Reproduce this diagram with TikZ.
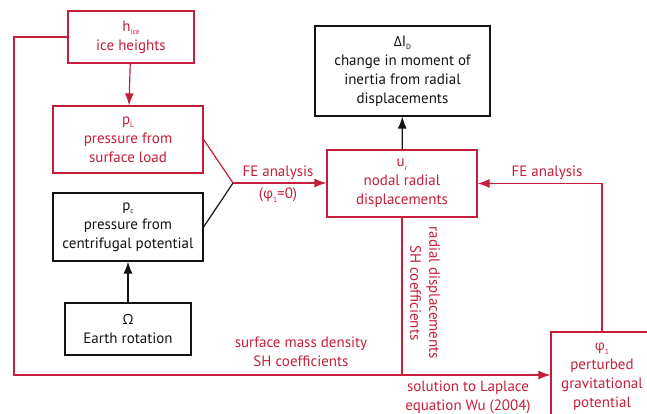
\documentclass[tikz,border=0pt]{standalone}
\usepackage{fontspec}
\setmainfont{PT Sans}
\newfontfamily\greekfont{Open Sans}
\usetikzlibrary{arrows.meta}
\definecolor{flowred}{RGB}{198,30,58}
\definecolor{flowblack}{RGB}{20,20,20}
\newcommand\lowsub[1]{\raisebox{-0.45ex}{\fontsize{7.5}{7.5}\selectfont #1}}
\newcommand\gk[1]{{\greekfont\fontsize{14}{19}\selectfont #1}}
\tikzset{
  box/.style={draw, line width=1.2pt, align=center, inner sep=2pt,
              font=\fontsize{15}{19}\selectfont},
  redbox/.style={box, draw=flowred, text=flowred},
  blackbox/.style={box, draw=flowblack, text=flowblack},
  redline/.style={draw=flowred, line width=1.2pt},
  blackline/.style={draw=flowblack, line width=1.2pt},
  tip/.style={-{Latex[length=12pt,width=9pt]}},
  lab/.style={text=flowred, align=center, font=\fontsize{15}{19}\selectfont}
}
\begin{document}
\begin{tikzpicture}[x=1pt,y=-1pt]
\useasboundingbox (0,0) rectangle (647,414);
\clip (0,0) rectangle (647,414);

% boxes
\node[redbox, minimum width=126pt, minimum height=52pt] (hice) at (131,37)
  {h\lowsub{ice}\\ice heights};
\node[redbox, minimum width=150pt, minimum height=67pt] (pL) at (128,139.5)
  {p\lowsub{L}\\pressure from\\surface load};
\node[blackbox, minimum width=150pt, minimum height=68pt] (pc) at (128,227)
  {p\lowsub{c}\\pressure from\\centrifugal potential};
\node[blackbox, minimum width=126pt, minimum height=52pt] (om) at (128,329)
  {\gk{Ω}\\Earth rotation};
\node[blackbox, minimum width=175pt, minimum height=90pt] (dI) at (402.5,71)
  {\gk{Δ}I\lowsub{D}\\change in moment of\\inertia from radial\\displacements};
\node[redbox, minimum width=150pt, minimum height=67pt] (ur) at (402,183.5)
  {u\lowsub{r}\\nodal radial\\displacements};
\node[redbox, minimum width=102pt, minimum height=90pt] (phi) at (602,377)
  {\gk{φ}\lowsub{1}\\perturbed\\gravitational\\potential};

% helper points
\coordinate (J) at (233,183);
\coordinate (BL) at (14,375);

% connectors
\draw[redline, tip] (hice) -- (pL);
\draw[redline] (pL.east) -- (J);
\draw[blackline] (pc.east) -- (J);
\draw[redline, tip] (J) -- (J -| ur.west);
\draw[blackline, tip] (om) -- (pc);
\draw[blackline, tip] (ur) -- (dI);
\draw[redline, tip] (hice.west) -| (BL) -- (BL -| phi.west);
\draw[redline] (ur.south) -- (ur.south |- BL);
\draw[redline, tip] (phi.north) |- (ur.east);

% labels
\node[lab] (fe1) at (278,173) {FE analysis};
\node[lab] (fe1b) at (278,195) {(\gk{φ}\lowsub{1}=0)};
\node[lab] (fe2) at (547,173) {FE analysis};
\node[lab] (smd) at (301,352) {surface mass density\\SH coefficients};
\node[lab] (lap) at (468,397) {solution to Laplace\\equation Wu (2004)};
\node[lab, rotate=-90] (rdsh) at (425,293) {radial displacements\\SH coefficients};
\end{tikzpicture}
\end{document}
